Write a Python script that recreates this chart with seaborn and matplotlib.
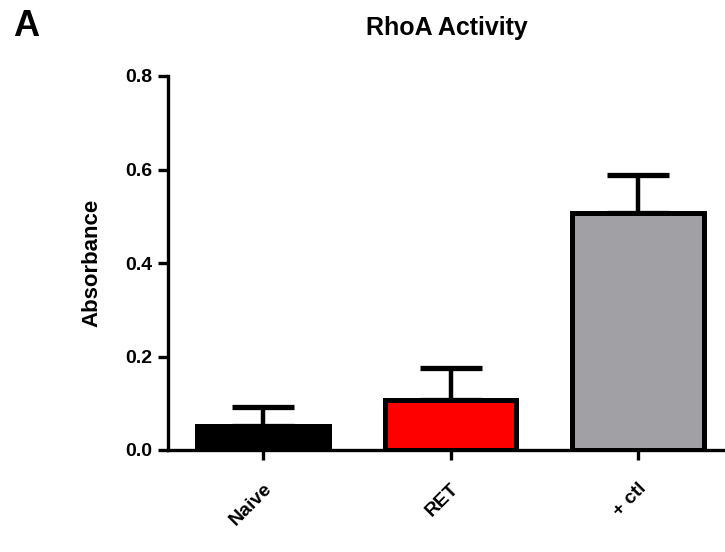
import matplotlib
matplotlib.use("Agg")
import matplotlib.pyplot as plt
import seaborn as sns
import numpy as np

categories = ["Naive", "RET", "+ ctl"]
means = [0.051, 0.107, 0.506]
sems = [0.042, 0.069, 0.083]
bar_colors = ["#000000", "#FF0000", "#A1A0A4"]
yticks = [0.0, 0.2, 0.4, 0.6, 0.8]
ytick_labels = ["0.0", "0.2", "0.4", "0.6", "0.8"]

sns.set_theme(style="ticks")
plt.rcParams["font.family"] = ["Liberation Sans", "DejaVu Sans"]
plt.rcParams["font.weight"] = "bold"
plt.rcParams["text.color"] = "black"
plt.rcParams["axes.labelcolor"] = "black"
plt.rcParams["xtick.color"] = "black"
plt.rcParams["ytick.color"] = "black"

fig = plt.figure(figsize=(7.25, 5.52), dpi=100)
ax = fig.add_axes([168 / 725, 1 - 450 / 552, 1 - 168 / 725, (450 - 76) / 552])

sns.barplot(x=categories, y=means, hue=categories, palette=bar_colors,
            saturation=1, legend=False, edgecolor="black", linewidth=3.6,
            width=0.7, ax=ax, zorder=3)

xpos = np.arange(len(categories))
ax.errorbar(xpos, means, yerr=[np.zeros(len(sems)), sems], fmt="none",
            ecolor="black", elinewidth=3.2, capsize=22.5, capthick=3.8, zorder=2)

ax.set_ylim(0, 0.8)
ax.set_xlim(-0.507, 2.464)
ax.set_yticks(yticks)
ax.set_yticklabels(ytick_labels, fontsize=14, fontweight="bold", color="black")
ax.set_xticks(xpos)
ax.set_xticklabels(categories, fontsize=14, fontweight="bold", rotation=45,
                   ha="right", va="top", rotation_mode="anchor", color="black")
ax.set_ylabel("Absorbance", fontsize=16, fontweight="bold", labelpad=16, color="black")
ax.set_xlabel("")

for s in ["top", "right"]:
    ax.spines[s].set_visible(False)
for s in ["left", "bottom"]:
    ax.spines[s].set_linewidth(2.4)
    ax.spines[s].set_color("black")
ax.tick_params(axis="both", length=7.5, width=2.4, color="black", labelcolor="black")
ax.tick_params(axis="y", pad=4)
ax.tick_params(axis="x", pad=14)

fig.text(447 / 725, 1 - 35 / 552, "RhoA Activity", ha="center", va="baseline",
         fontsize=18, fontweight="bold", color="black")
fig.text(13 / 725, 1 - 36 / 552, "A", ha="left", va="baseline",
         fontsize=26, fontweight="bold", color="black")

fig.savefig("out.png", dpi=100)
